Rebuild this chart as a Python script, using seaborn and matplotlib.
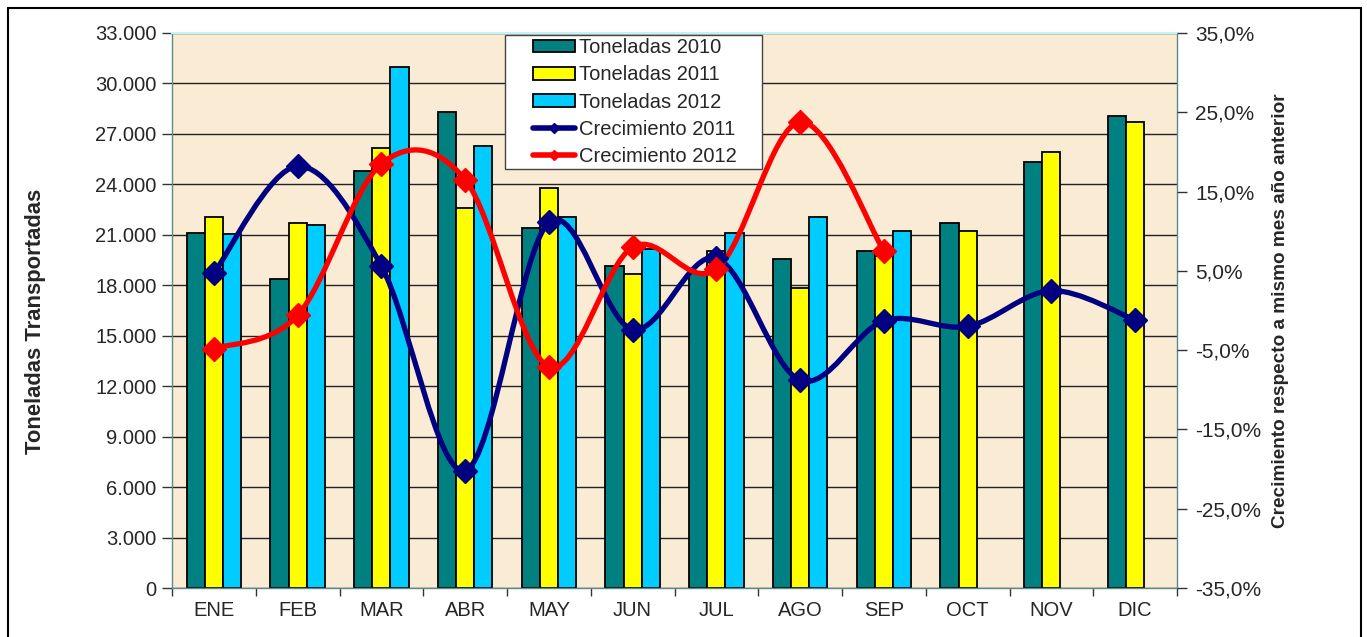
import numpy as np
import pandas as pd
import matplotlib
matplotlib.use("Agg")
import matplotlib.pyplot as plt
from matplotlib.path import Path
from matplotlib.patches import PathPatch, Rectangle, Patch
from matplotlib.lines import Line2D
from matplotlib.legend_handler import HandlerPatch, HandlerLine2D
from matplotlib.ticker import FuncFormatter, MultipleLocator, FixedLocator
import seaborn as sns

meses = ["ENE", "FEB", "MAR", "ABR", "MAY", "JUN", "JUL", "AGO", "SEP", "OCT", "NOV", "DIC"]
ton_2010 = [21120, 18390, 24790, 28320, 21420, 19160, 18790, 19540, 20030, 21680, 25330, 28060]
ton_2011 = [22080, 21720, 26180, 22570, 23800, 18670, 20030, 17820, 19770, 21240, 25940, 27730]
ton_2012 = [21030, 21600, 31000, 26300, 22080, 20140, 21090, 22040, 21240, np.nan, np.nan, np.nan]
crec_2011 = [4.7, 18.2, 5.6, -20.2, 11.1, -2.4, 6.6, -8.8, -1.3, -2.0, 2.5, -1.2]
crec_2012 = [-4.8, -0.6, 18.5, 16.5, -7.1, 8.0, 5.2, 23.8, 7.5]

series = ["Toneladas 2010", "Toneladas 2011", "Toneladas 2012"]
colores_barras = ["#008080", "#FFFF00", "#00CCFF"]

df = pd.DataFrame({"mes": meses * 3,
                   "serie": np.repeat(series, 12),
                   "ton": ton_2010 + ton_2011 + ton_2012})

sns.set_theme(style="white")
plt.rcParams["font.family"] = ["Liberation Sans", "DejaVu Sans"]

fig = plt.figure(figsize=(13.67, 6.37), dpi=100)
ax = fig.add_axes([172 / 1367, 1 - 588 / 637, (1177 - 172) / 1367, (588 - 33) / 637])
ax.set_facecolor("#FAEBD4")

sns.barplot(data=df, x="mes", y="ton", hue="serie", order=meses, hue_order=series,
            palette=colores_barras, width=0.65, edgecolor="black", linewidth=1.3,
            saturation=1, ax=ax, legend=False, zorder=2)

ax.set_ylim(0, 33000)
ax.set_xlim(-0.5, 11.5)
ax.yaxis.set_major_locator(MultipleLocator(3000))
ax.yaxis.set_major_formatter(FuncFormatter(lambda v, p: f"{int(v):,}".replace(",", ".")))
ax.grid(axis="y", color="#222222", linewidth=1.0, zorder=0)
ax.set_axisbelow(True)
ax.set_xlabel("")
ax.set_ylabel("Toneladas Transportadas", fontsize=15.8, fontweight="bold")
ax.yaxis.set_label_coords(-0.125, 0.48)
ax.tick_params(axis="y", labelsize=14.5, length=7, width=1, color="#333333", direction="out", left=True, pad=4)
ax.tick_params(axis="x", labelsize=14.5, length=0, pad=9)
ax.set_xticks(range(12))
ax.set_xticklabels(meses)
ax.set_xticks(np.arange(-0.5, 12, 1), minor=True)
ax.tick_params(axis="x", which="minor", length=6, width=1, color="#333333", bottom=True)
for s in ["left", "right", "bottom"]:
    ax.spines[s].set_color("#5f8a8a")
    ax.spines[s].set_linewidth(1)
ax.spines["top"].set_color("#bff4f8")
ax.spines["top"].set_linewidth(1.5)

ax2 = ax.twinx()
ax2.set_ylim(-35, 35)
ax2.yaxis.set_major_locator(FixedLocator(np.arange(-35, 36, 10)))
ax2.yaxis.set_major_formatter(FuncFormatter(lambda v, p: f"{v:.1f}%".replace(".", ",")))
ax2.tick_params(axis="y", labelsize=15, length=7, width=1, color="#333333", right=True, pad=6)
ax2.set_ylabel("Crecimiento respecto a mismo mes año anterior", fontsize=13.7, fontweight="bold")
ax2.yaxis.set_label_coords(1.095, 0.5)
ax2.grid(False)
for s in ax2.spines.values():
    s.set_visible(False)


def curva_suave(ax, xs, ys, color):
    # Curva suavizada tipo Excel (Bezier Catmull-Rom) por los puntos de datos
    p = np.column_stack([xs, ys]).astype(float)
    n = len(p)
    verts = [p[0]]
    codes = [Path.MOVETO]
    for i in range(n - 1):
        p0 = p[i - 1] if i > 0 else p[i]
        p3 = p[i + 2] if i + 2 < n else p[i + 1]
        c1 = p[i] + (p[i + 1] - p0) / 6
        c2 = p[i + 1] - (p3 - p[i]) / 6
        verts += [c1, c2, p[i + 1]]
        codes += [Path.CURVE4] * 3
    ax.add_patch(PathPatch(Path(verts, codes), facecolor="none", edgecolor=color,
                           linewidth=3.8, capstyle="round", joinstyle="round", zorder=3))
    ax.plot(xs, ys, linestyle="none", marker="D", markersize=12, color=color, zorder=4)


curva_suave(ax2, np.arange(len(crec_2011)), crec_2011, "#000080")
curva_suave(ax2, np.arange(len(crec_2012)), crec_2012, "#FF0000")

handles = [Patch(facecolor=c, edgecolor="black", linewidth=1.3) for c in colores_barras]
handles += [Line2D([], [], color="#000080", linewidth=4, marker="D", markersize=5),
            Line2D([], [], color="#FF0000", linewidth=4, marker="D", markersize=5)]
labels = series + ["Crecimiento 2011", "Crecimiento 2012"]
leg = ax2.legend(handles, labels, loc="upper left", bbox_to_anchor=(0.331, 0.0, 0.2557, 0.9964),
                 mode="expand", fontsize=14.5, frameon=True, fancybox=False, edgecolor="#444444",
                 framealpha=1, borderpad=0.15, labelspacing=0.41, handlelength=3.35,
                 handleheight=0.6, handletextpad=0.2, borderaxespad=0.0,
                 handler_map={Patch: HandlerPatch(xpad=1.25), Line2D: HandlerLine2D(xpad=1.25)})
leg.get_frame().set_linewidth(1)

fig.patches.append(Rectangle((8 / 1367, -0.1), (1361 - 8) / 1367, 1.1 - 8 / 637,
                             transform=fig.transFigure, fill=False, edgecolor="black",
                             linewidth=1.5))

fig.savefig("out.png", dpi=100, facecolor="white")
